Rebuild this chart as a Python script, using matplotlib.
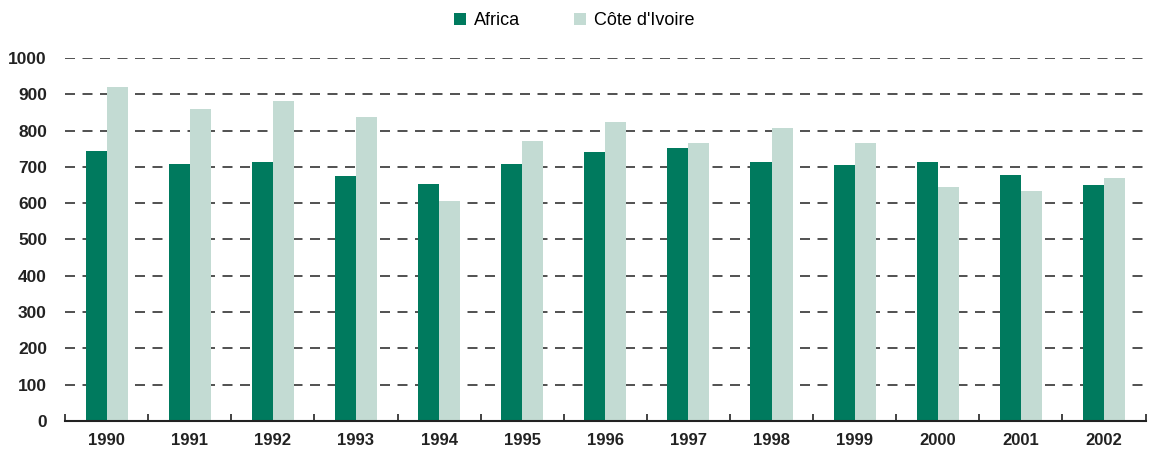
import matplotlib.pyplot as plt
import numpy as np

plt.rcParams['font.family'] = ['Liberation Sans', 'DejaVu Sans']

years = ['1990', '1991', '1992', '1993', '1994', '1995', '1996',
         '1997', '1998', '1999', '2000', '2001', '2002']
africa = [744, 708, 713, 675, 653, 708, 741, 752, 713, 705, 713, 678, 650]
cote_ivoire = [920, 860, 881, 837, 606, 771, 824, 766, 807, 766, 645, 634, 669]
yticks = [0, 100, 200, 300, 400, 500, 600, 700, 800, 900, 1000]

dark = '#007a5e'
light = '#c3dbd3'

fig = plt.figure(figsize=(11.49, 4.58), dpi=100)
ax = fig.add_axes([0.0566, 0.0808, 0.9404, 0.7926])

x = np.arange(len(years))
w = 0.253
ax.bar(x - w / 2, africa, width=w, color=dark, label='Africa')
ax.bar(x + w / 2, cote_ivoire, width=w, color=light, label="Côte d'Ivoire")

ax.set_xlim(-0.5, len(years) - 0.5)
ax.set_ylim(0, 1000)
ax.set_yticks(yticks)
ax.set_xticks(x)
ax.set_xticklabels(years, fontsize=12, fontweight='bold', color='#222222')
ax.set_xticks(np.arange(-0.5, len(years)), minor=True)
ax.tick_params(axis='x', which='major', length=0, pad=9)
ax.tick_params(axis='x', which='minor', direction='in', length=5, width=1.2, color='#222222')
ax.tick_params(axis='y', length=0, pad=13)
for lab in ax.get_yticklabels():
    lab.set_fontsize(12.5)
    lab.set_fontweight('bold')
    lab.set_color('#222222')

ax.yaxis.grid(True, linestyle=(0, (6, 4.5)), color='#333333', linewidth=1.2)
ax.set_axisbelow(True)
for s in ['top', 'right', 'left']:
    ax.spines[s].set_visible(False)
ax.spines['bottom'].set_linewidth(1.5)
ax.spines['bottom'].set_color('#222222')

fig.legend(loc='center', bbox_to_anchor=(0.5, 0.955), ncol=2, frameon=False,
           fontsize=13, handlelength=0.65, handleheight=0.65, columnspacing=3.0,
           handletextpad=0.45)

fig.savefig('out.png', dpi=100)
